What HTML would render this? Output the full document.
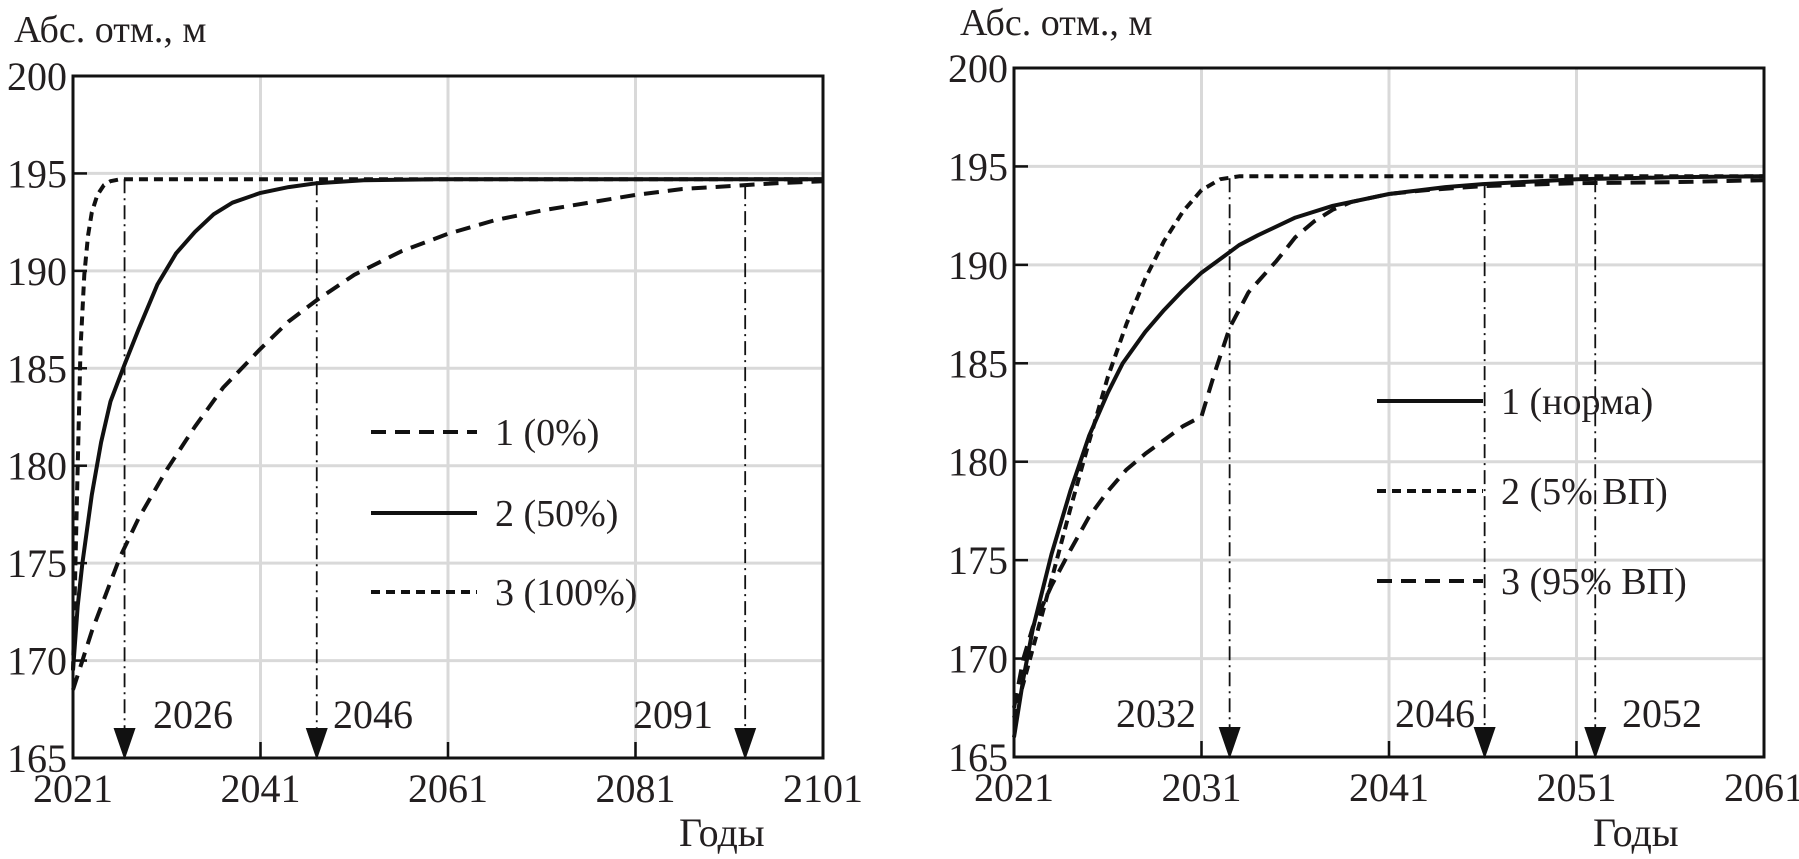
<!DOCTYPE html>
<html><head><meta charset="utf-8"><style>
html,body{margin:0;padding:0;background:#fff;}
svg{display:block;font-family:"Liberation Serif",serif;}
</style></head><body>
<svg id="chart" width="1799" height="859" viewBox="0 0 1799 859" xmlns="http://www.w3.org/2000/svg"></svg>
<script>
// Left chart data
const leftYears100 = [2021,2021.4,2021.8,2022.2,2022.6,2023,2023.6,2024.3,2025,2026,2101];
const leftVals100  = [169.5,178,186,189.8,191.8,193,193.9,194.4,194.6,194.7,194.7];
const leftYears50 = [2021,2021.5,2022,2023,2024,2025,2026.5,2028,2030,2032,2034,2036,2038,2041,2044,2047,2052,2060,2101];
const leftVals50  = [169.5,172.8,175,178.5,181.2,183.3,185.2,187,189.3,190.9,192,192.9,193.5,194,194.3,194.5,194.65,194.7,194.7];
const leftYears0 = [2021,2023,2026,2028,2031,2034,2037,2041,2044,2047,2051,2056,2061,2066,2071,2076,2081,2086,2091,2096,2101];
const leftVals0  = [168.5,171.5,175.3,177.3,179.8,182,184,186,187.4,188.5,189.8,191,191.9,192.6,193.1,193.5,193.9,194.2,194.35,194.5,194.6];
const leftMarkYears = [2026.5,2047,2092.7];
const leftMarkLabels = ["2026","2046","2091"];
const leftMarkTop = [194.7,194.6,194.4];
const leftXTicks = [2021,2041,2061,2081,2101];
// Right chart data
const rightYearsNorm = [2021,2021.5,2022,2023,2024,2025,2026,2026.8,2028,2029,2030,2031,2032,2033,2034,2036,2038,2041,2044,2046,2051,2056,2061];
const rightValsNorm  = [166,169,171.5,175.3,178.5,181.3,183.5,185,186.6,187.7,188.7,189.6,190.3,191,191.5,192.4,193,193.6,193.95,194.1,194.35,194.45,194.5];
const rightYears5 = [2021,2022,2023,2024,2025,2026,2027,2028,2029,2030,2031,2032,2033,2061];
const rightVals5  = [167,170.5,174,177.6,181,184.3,187,189.3,191.2,192.7,193.8,194.35,194.5,194.5];
const rightYears95 = [2021,2021.5,2022,2023,2024,2025,2026,2027,2028,2029,2030,2031,2031.7,2032.5,2033.5,2035,2036,2037,2038,2039,2041,2043,2046,2051,2056,2061];
const rightVals95  = [167.5,170,171.6,173.7,175.5,177.2,178.5,179.6,180.4,181.1,181.8,182.3,184.5,186.8,188.6,190.2,191.4,192.2,192.8,193.2,193.6,193.8,194,194.15,194.2,194.3];
const rightMarkYears = [2032.5,2046.1,2052];
const rightMarkLabels = ["2032","2046","2052"];
const rightMarkTop = [194.4,194.1,194.4];
const rightXTicks = [2021,2031,2041,2051,2061];
const yTicks = [165,170,175,180,185,190,195,200];

const svg = document.getElementById('chart');
const NS = "http://www.w3.org/2000/svg";
function mk(tag, attrs, parent){ const e=document.createElementNS(NS,tag); for(const k in attrs) e.setAttribute(k,attrs[k]); (parent||svg).appendChild(e); return e; }

function drawPanel(p){
  const g = mk('g',{});
  
  
  const X = v => p.x0 + (v - p.xmin)/(p.xmax - p.xmin)*(p.x1 - p.x0);
  const Y = v => p.y0 - (v - 165)/35*(p.y0 - p.y1);
  p.xTicks.forEach((t,i)=>{ if(i>0 && i<p.xTicks.length-1){
    const l=mk('line',{x1:X(t),x2:X(t),y1:p.y1,y2:p.y0,stroke:'#d9d9d9','stroke-width':3},g);
    
    
    mk('line',{x1:X(t),x2:X(t),y1:p.y0-16,y2:p.y0,stroke:'#111','stroke-width':2.5},g);} });
  yTicks.forEach(t=>{ if(t>165 && t<200){
    const l=mk('line',{x1:p.x0,x2:p.x1,y1:Y(t),y2:Y(t),stroke:'#d9d9d9','stroke-width':3},g);
    
    
    mk('line',{x1:p.x0,x2:p.x0+14,y1:Y(t),y2:Y(t),stroke:'#111','stroke-width':2.5},g);} });
  yTicks.forEach(t=>{
    const tx=mk('text',{x:p.x0-6,y:Y(t)+14,'text-anchor':'end','font-size':40,fill:'#231f20'},g); tx.textContent=t;
    
     });
  p.xTicks.forEach(t=>{
    const tx=mk('text',{x:X(t),y:p.y0+44,'text-anchor':'middle','font-size':40,fill:'#231f20'},g); tx.textContent=t;
    
     });
  p.markYears.forEach((yr,i)=>{
    const ml=mk('line',{x1:X(yr),x2:X(yr),y1:Y(p.markTop[i]),y2:p.y0-20,stroke:'#111','stroke-width':1.8,'stroke-dasharray':'14,5,2,5'},g);
    
    
    const ar=mk('polygon',{points:`${X(yr)-11},${p.y0-30} ${X(yr)+11},${p.y0-30} ${X(yr)},${p.y0+2}`,fill:'#111'},g);
    
    
    const lt=mk('text',{x:p.markLabelX[i],y:p.y0-30,'font-size':40,fill:'#231f20'},g); lt.textContent=p.markLabels[i];
    
    
  });
  p.series.forEach(s=>{
    const d = s.xs.map((v,i)=>(i?'L':'M')+X(v).toFixed(1)+','+Y(s.ys[i]).toFixed(1)).join(' ');
    const path=mk('path',{d:d,fill:'none',stroke:'#111','stroke-width':4,'stroke-dasharray':s.dash||'none','stroke-linejoin':'round'},g);
    
    
  });
  const fr=mk('rect',{x:p.x0,y:p.y1,width:p.x1-p.x0,height:p.y0-p.y1,fill:'none',stroke:'#111','stroke-width':3},g);
  
  
  p.series.forEach((s,i)=>{
    const ly=p.legY[i];
    const ll=mk('line',{x1:p.legX,x2:p.legX+106,y1:ly,y2:ly,stroke:'#111','stroke-width':4,'stroke-dasharray':s.dash||'none'},g);
    
    
    const lt=mk('text',{x:p.legX+124,y:ly+13,'font-size':38,fill:'#231f20'},g); lt.textContent=s.label;
    
    
  });
  const yt=mk('text',{x:p.ytX,y:p.ytY,'font-size':38,fill:'#231f20'},g); yt.textContent='Абс. отм., м';
  
  
  const xt=mk('text',{x:p.xtX,y:846,'font-size':40,fill:'#231f20'},g); xt.textContent='Годы';
  
  
}

drawPanel({name:'left-chart',x0:73,x1:823,y0:758,y1:76,xmin:2021,xmax:2101,xTicks:leftXTicks,
  markYears:leftMarkYears,markLabels:leftMarkLabels,markTop:leftMarkTop,markLabelX:[153,333,633],
  series:[{name:'series-0-percent',xs:leftYears0,ys:leftVals0,dash:'15,9',label:'1 (0%)'},
          {name:'series-50-percent',xs:leftYears50,ys:leftVals50,dash:null,label:'2 (50%)'},
          {name:'series-100-percent',xs:leftYears100,ys:leftVals100,dash:'9,6',label:'3 (100%)'}],
  legX:371,legY:[432,513,592],ytX:14,ytY:42,xtX:679});

drawPanel({name:'right-chart',x0:1014,x1:1764,y0:757,y1:68,xmin:2021,xmax:2061,xTicks:rightXTicks,
  markYears:rightMarkYears,markLabels:rightMarkLabels,markTop:rightMarkTop,markLabelX:[1116,1395,1622],
  series:[{name:'series-norm',xs:rightYearsNorm,ys:rightValsNorm,dash:null,label:'1 (норма)'},
          {name:'series-5-percent-vp',xs:rightYears5,ys:rightVals5,dash:'9,6',label:'2 (5% ВП)'},
          {name:'series-95-percent-vp',xs:rightYears95,ys:rightVals95,dash:'15,9',label:'3 (95% ВП)'}],
  legX:1377,legY:[401,491,581],ytX:960,ytY:35,xtX:1593});
</script>
</body></html>
